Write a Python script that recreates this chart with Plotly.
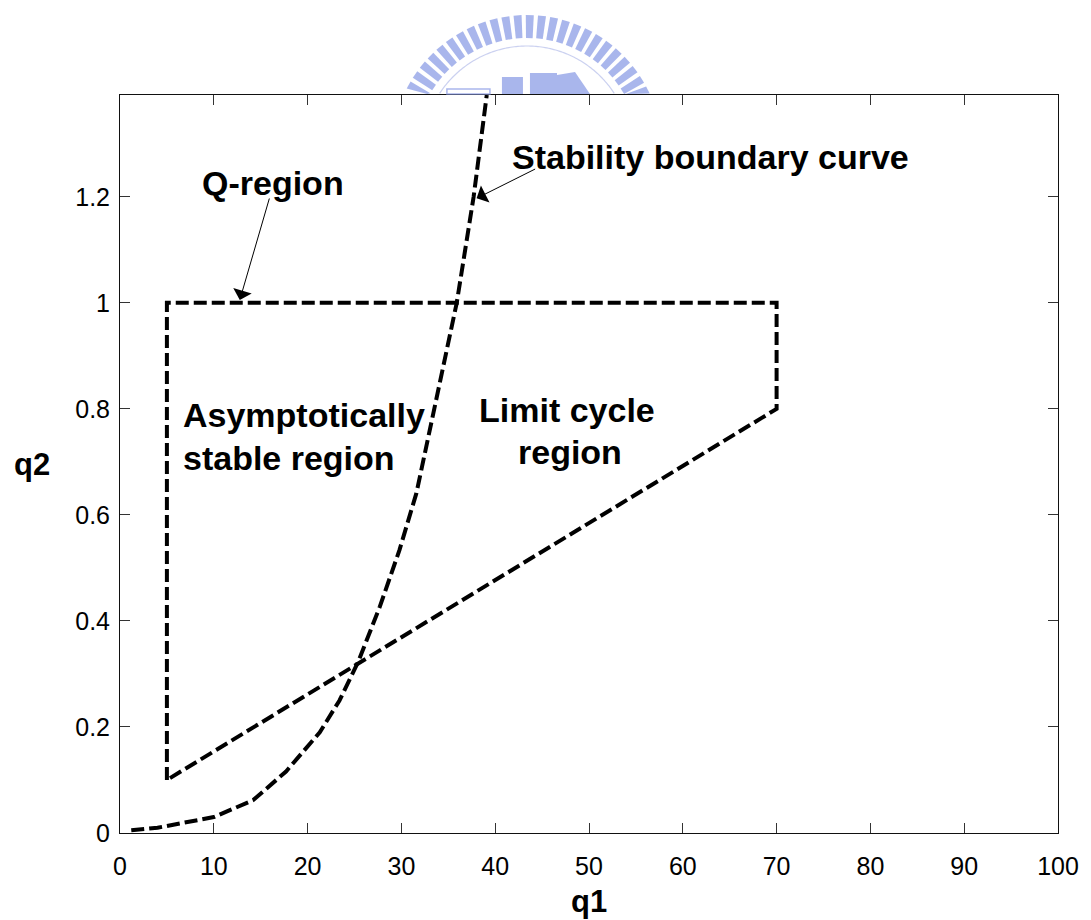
import math
import plotly.graph_objects as go

# ---------------- data ----------------
region_q1 = [5, 5, 70, 70, 5]
region_q2 = [0.1, 1.0, 1.0, 0.8, 0.1]

curve_q1 = [1.2, 4.0, 10.0, 14.2, 17.7, 21.3, 23.4, 25.4, 27.7, 29.8, 31.6, 32.5, 34.2, 35.9, 37.7, 39.1]
curve_q2 = [0.005, 0.01, 0.03, 0.062, 0.116, 0.19, 0.25, 0.323, 0.427, 0.534, 0.641, 0.715, 0.855, 1.0, 1.2, 1.392]

x_ticks = [0, 10, 20, 30, 40, 50, 60, 70, 80, 90, 100]
y_ticks = [0, 0.2, 0.4, 0.6, 0.8, 1.0, 1.2]
y_tick_labels = ["0", "0.2", "0.4", "0.6", "0.8", "1", "1.2"]

# ---------------- layout geometry ----------------
W, H = 1091, 920
L, R, T, B = 120.3, 1057.7, 95, 833

def px(xp):
    return (xp - L) / (R - L)

def py(yp):
    return (B - yp) / (B - T)

FONT = "Liberation Sans, Arial, Helvetica, sans-serif"
dash = "13px,5px"

fig = go.Figure()
fig.add_trace(go.Scatter(x=region_q1, y=region_q2, mode="lines",
                         line=dict(color="black", width=4, dash=dash),
                         showlegend=False, hoverinfo="skip"))
fig.add_trace(go.Scatter(x=curve_q1, y=curve_q2, mode="lines",
                         line=dict(color="black", width=4, dash=dash),
                         showlegend=False, hoverinfo="skip", cliponaxis=True))

# ---------------- watermark emblem (decorative, above the axes) ----------------
wm_color = "rgba(140,158,230,0.75)"
cx, cy, r_in, r_out = 527, 150, 112, 135
shapes = []
ang = 16.0
while ang <= 164.0:
    a0 = math.radians(ang - 1.7)
    a1 = math.radians(ang + 1.7)
    pts = [(cx + r_in * math.cos(a0), cy - r_in * math.sin(a0)),
           (cx + r_out * math.cos(a0), cy - r_out * math.sin(a0)),
           (cx + r_out * math.cos(a1), cy - r_out * math.sin(a1)),
           (cx + r_in * math.cos(a1), cy - r_in * math.sin(a1))]
    pts = [(x, min(y, T - 1)) for x, y in pts]
    if max(y for _, y in pts) - min(y for _, y in pts) > 2:
        path = "M " + " L ".join(f"{px(x):.5f},{py(y):.5f}" for x, y in pts) + " Z"
        shapes.append(dict(type="path", xref="paper", yref="paper", path=path,
                           fillcolor=wm_color, line=dict(width=0)))
    ang += 5.2
# thin inner ring
ring = []
for k in range(0, 181):
    a = math.radians(k)
    x, y = cx + 104 * math.cos(a), cy - 104 * math.sin(a)
    if y < T - 1:
        ring.append((x, y))
if ring:
    shapes.append(dict(type="path", xref="paper", yref="paper",
                       path="M " + " L ".join(f"{px(x):.5f},{py(y):.5f}" for x, y in ring),
                       line=dict(color="rgba(160,172,228,0.55)", width=1.2)))
# buildings
for (x0, y0, x1, y1, filled) in [(447, 89, 490, T - 1, False), (502, 77, 523, T - 1, True),
                                 (530, 73, 557, T - 1, True)]:
    shapes.append(dict(type="rect", xref="paper", yref="paper",
                       x0=px(x0), x1=px(x1), y0=py(y1), y1=py(y0),
                       fillcolor=wm_color if filled else "rgba(0,0,0,0)",
                       line=dict(color=wm_color, width=1.5 if not filled else 0)))
tri = [(557, T - 1), (557, 75), (575, 72), (590, T - 1)]
shapes.append(dict(type="path", xref="paper", yref="paper",
                   path="M " + " L ".join(f"{px(x):.5f},{py(y):.5f}" for x, y in tri) + " Z",
                   fillcolor=wm_color, line=dict(width=0)))

# ---------------- annotations ----------------
ann_font = dict(family=FONT, size=34, color="black")
annotations = [
    dict(x=px(273), y=py(183), xref="paper", yref="paper", text="<b>Q-region</b>",
         showarrow=False, font=ann_font, xanchor="center", yanchor="middle"),
    dict(x=px(710), y=py(157), xref="paper", yref="paper", text="<b>Stability boundary curve</b>",
         showarrow=False, font=ann_font, xanchor="center", yanchor="middle"),
    dict(x=px(181), y=py(415), xref="paper", yref="paper", text="<b>Asymptotically</b>",
         showarrow=False, font=ann_font, xanchor="left", yanchor="middle"),
    dict(x=px(181), y=py(458), xref="paper", yref="paper", text="<b>stable region</b>",
         showarrow=False, font=ann_font, xanchor="left", yanchor="middle"),
    dict(x=px(567), y=py(410), xref="paper", yref="paper", text="<b>Limit cycle</b>",
         showarrow=False, font=ann_font, xanchor="center", yanchor="middle"),
    dict(x=px(570), y=py(452), xref="paper", yref="paper", text="<b>region</b>",
         showarrow=False, font=ann_font, xanchor="center", yanchor="middle"),
    # arrows
    dict(x=px(240), y=py(300), xref="paper", yref="paper", ax=270 - 240, ay=197 - 300,
         axref="pixel", ayref="pixel", text="", showarrow=True, arrowhead=1,
         arrowsize=3.2, arrowwidth=1, arrowcolor="black"),
    dict(x=px(476.7), y=py(198.3), xref="paper", yref="paper", ax=536.7 - 476.7, ay=168.3 - 198.3,
         axref="pixel", ayref="pixel", text="", showarrow=True, arrowhead=1,
         arrowsize=3.2, arrowwidth=1, arrowcolor="black"),
    # axis titles
    dict(x=0.5, y=py(901), xref="paper", yref="paper", text="<b>q1</b>", showarrow=False,
         font=dict(family=FONT, size=31, color="black"), xanchor="center", yanchor="middle"),
    dict(x=px(32), y=py(464), xref="paper", yref="paper", text="<b>q2</b>", showarrow=False,
         font=dict(family=FONT, size=31, color="black"), xanchor="center", yanchor="middle"),
]

axis_common = dict(showgrid=False, zeroline=False, showline=True, linecolor="#111", linewidth=1,
                   mirror="ticks", ticks="inside", ticklen=10, tickwidth=1, tickcolor="#333",
                   tickfont=dict(family=FONT, size=25, color="black"))

fig.update_layout(
    width=W, height=H,
    margin=dict(l=L, r=W - R, t=T, b=H - B, pad=0),
    paper_bgcolor="white", plot_bgcolor="white",
    xaxis=dict(range=[0, 100], tickmode="array", tickvals=x_ticks,
               ticktext=[str(v) for v in x_ticks], ticklabelstandoff=11, **axis_common),
    yaxis=dict(range=[0, 1.392], tickmode="array", tickvals=y_ticks,
               ticktext=y_tick_labels, ticklabelstandoff=4, **axis_common),
    shapes=shapes,
    annotations=annotations,
    showlegend=False,
)

fig.write_html("out.html")
